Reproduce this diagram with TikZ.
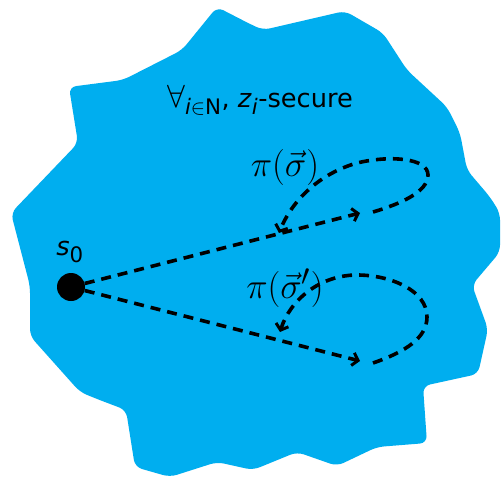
\documentclass[tikz,border=0pt]{standalone}
\usepackage{amsmath}
\usepackage{fontspec}
\setmainfont{DejaVu Sans}
\usetikzlibrary{arrows.meta}
\definecolor{blobcyan}{RGB}{0,174,239}
\tikzset{
  blob/.style={fill=blobcyan, rounded corners=7pt},
  pathline/.style={line width=3.6pt, dash pattern=on 10pt off 7pt, >={Straight Barb[length=5.5pt,width=13pt,line width=3pt]}},
  statedot/.style={circle, fill=black, minimum size=28pt, inner sep=0pt},
  plabel/.style={font=\Huge, scale=1.45, inner sep=0pt},
  tlabel/.style={font=\fontsize{24.88}{30}\selectfont, scale=1.03, inner sep=0pt}
}
\begin{document}
\begin{tikzpicture}[x=1pt, y=-1pt]
\useasboundingbox (0,0) rectangle (501,479);
\fill[white] (0,0) rectangle (501,479);
\fill[blob] (217,7) -- (250,24) -- (263,30) -- (345,11) -- (383,33) -- (407,70)
  -- (447,107) -- (460,133) -- (467,170) -- (490,197) -- (500,213) -- (500,252)
  -- (472,285) -- (488,329) -- (478,374) -- (423,386) -- (427,443) -- (377,447)
  -- (337,466) -- (297,452) -- (253,470) -- (217,462) -- (170,477) -- (135,467)
  -- (126,410) -- (97,399) -- (80,392) -- (30,336) -- (30,286) -- (11,213)
  -- (78,143) -- (69,87) -- (123,80) -- (182,50) -- cycle;

\node[tlabel] (title) at (260,100) {\scalebox{1.25}{$\forall$}$_{\text{\itshape i}\in\text{N}}$, \textit{z}$_{\text{\itshape i}}$-secure};
\node[tlabel] (s0lab) at (70,252) {\textit{s}$_{\text{0}}$};
\node[statedot] (s0) at (71,287) {};
\node[plabel] (l1) at (285,167) {$\pi(\vec{\sigma})$};
\node[plabel] (l2) at (285,288) {$\pi(\vec{\sigma}')$};

\coordinate (a1) at (360,213);
\coordinate (b1) at (373,212);
\coordinate (c1) at (279,233);
\coordinate (a2) at (360,361);
\coordinate (b2) at (373,363);
\coordinate (c2) at (280,332);

\draw[pathline,->] (s0) -- (a1);
\draw[pathline,->] (b1) .. controls (400,204) and (428,192) .. (428,175)
  .. controls (428,158) and (390,155) .. (357,163)
  .. controls (315,175) and (290,205) .. (c1);
\draw[pathline,->] (s0) -- (a2);
\draw[pathline,->] (b2) .. controls (405,352) and (427,338) .. (427,317)
  .. controls (427,290) and (390,275) .. (357,275)
  .. controls (320,275) and (290,300) .. (c2);
\end{tikzpicture}
\end{document}
